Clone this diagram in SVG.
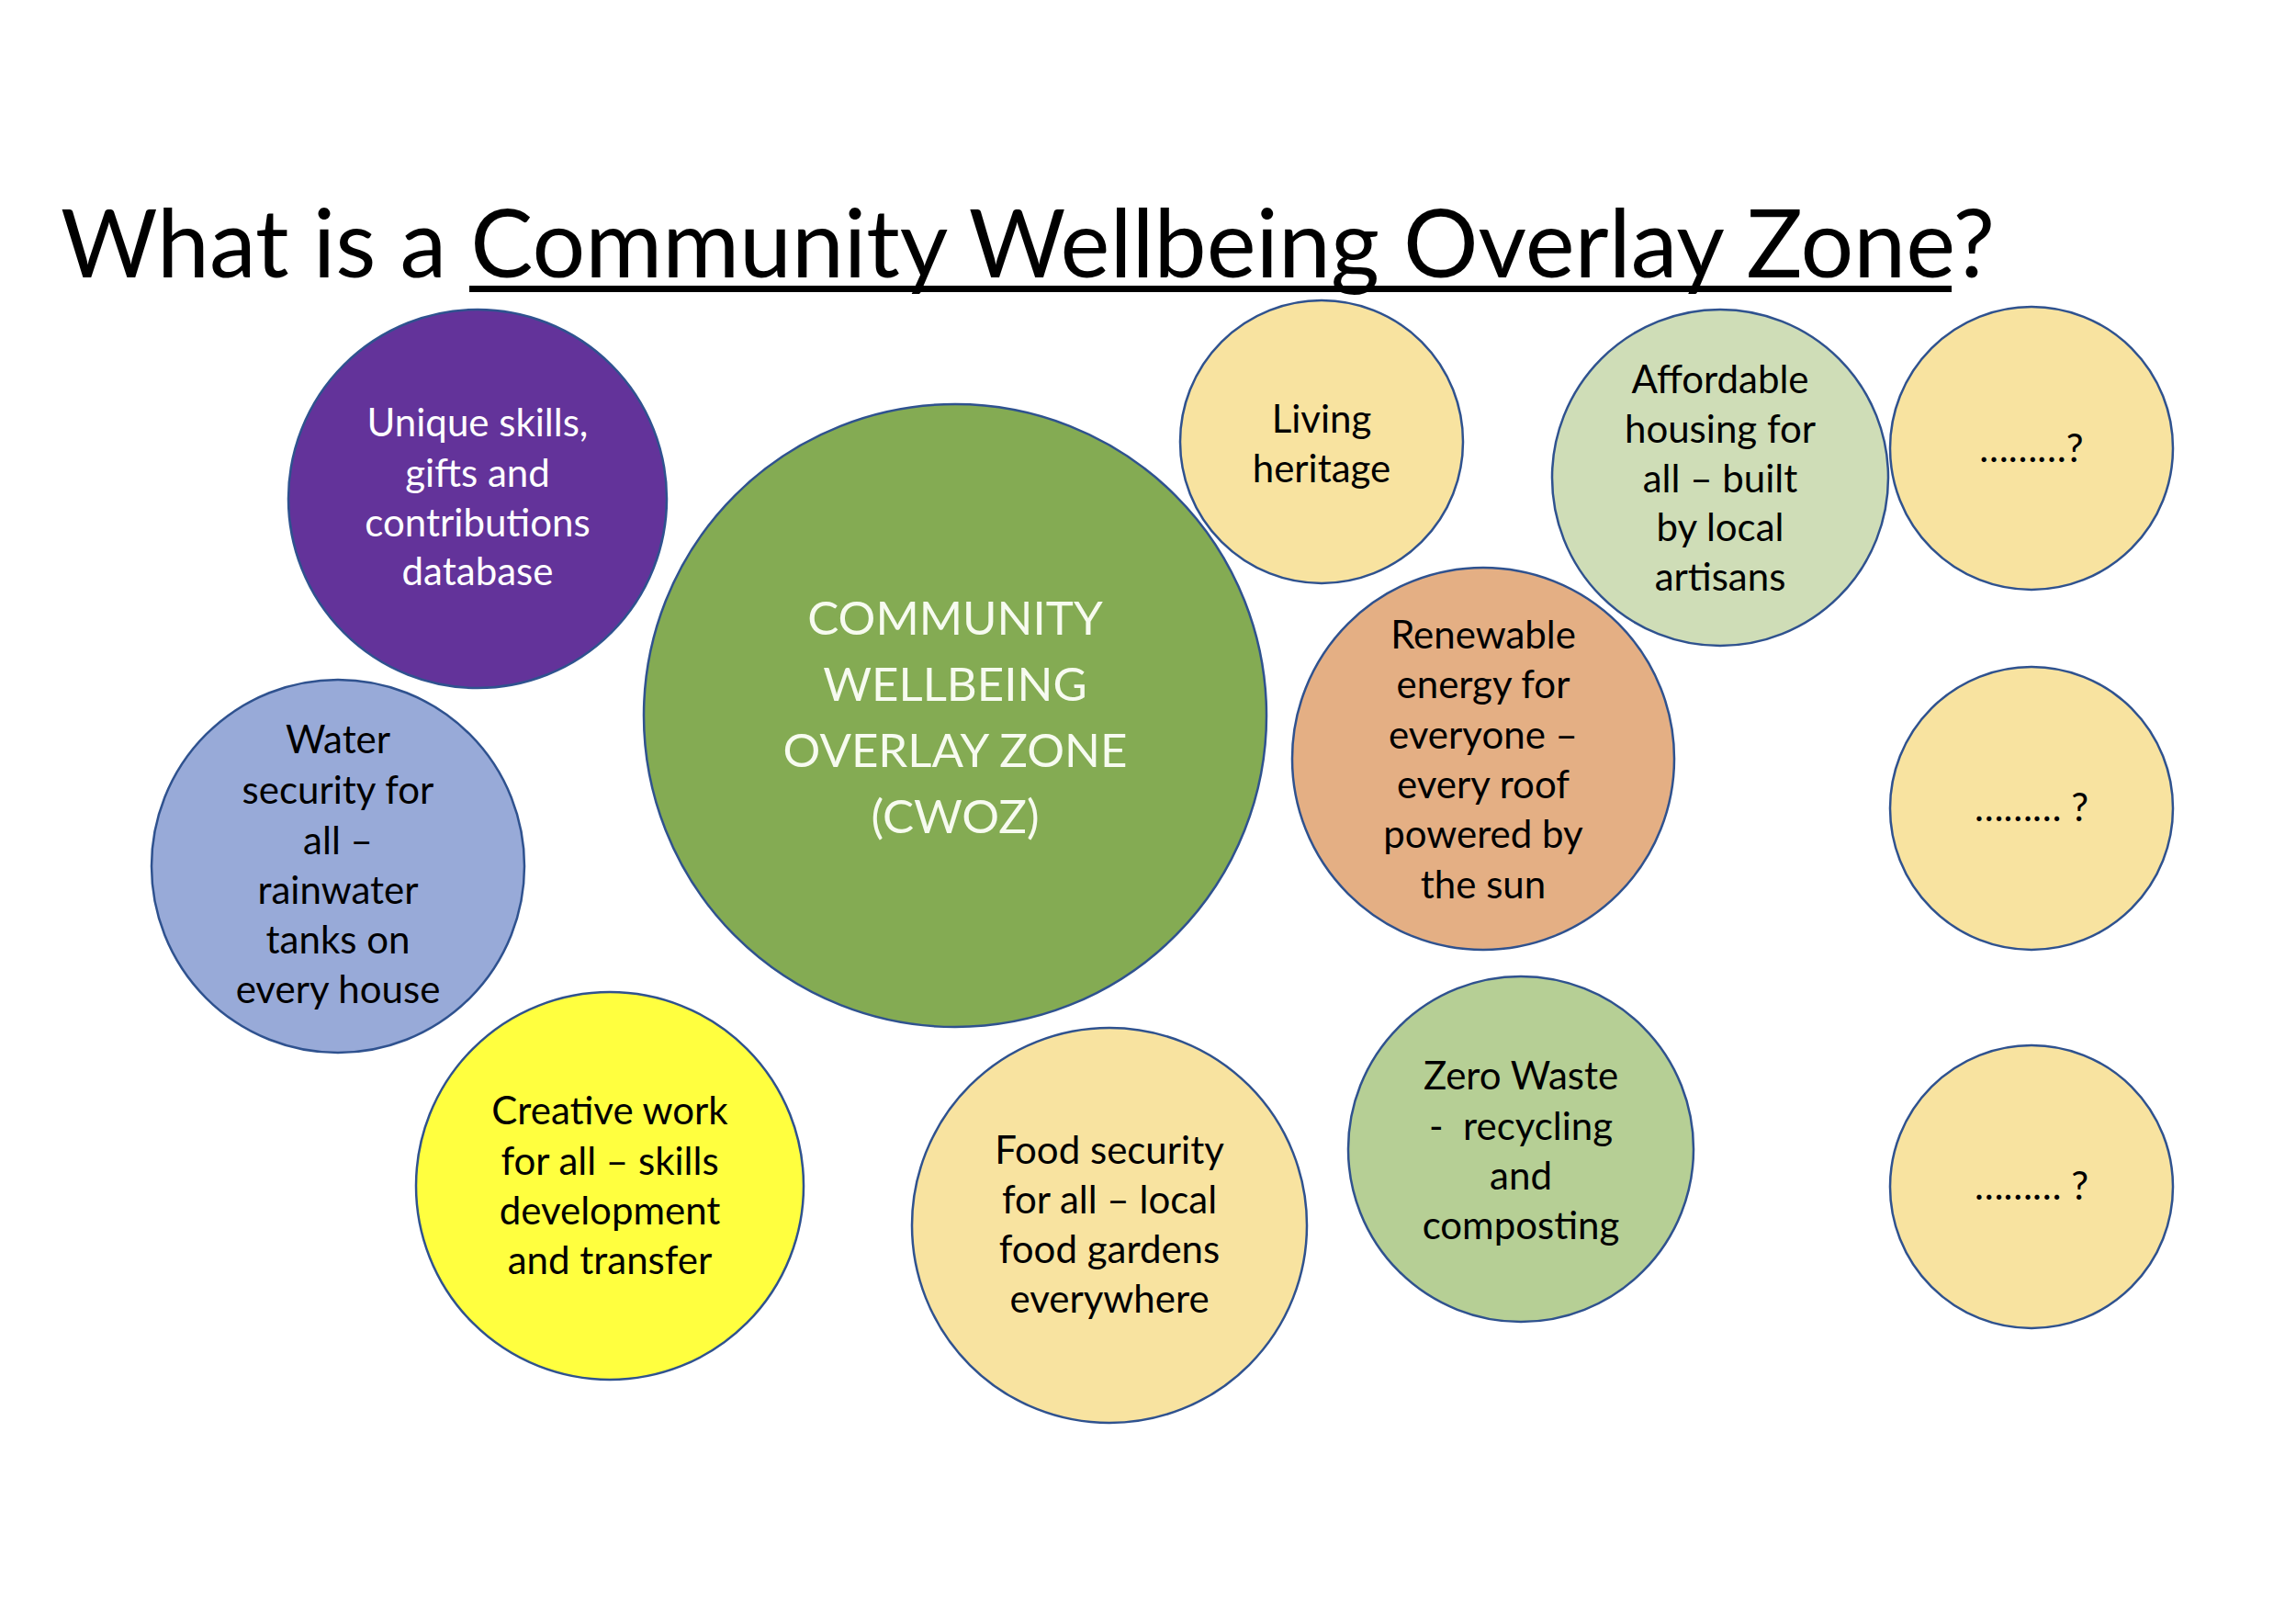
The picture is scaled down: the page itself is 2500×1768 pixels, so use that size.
<svg xmlns="http://www.w3.org/2000/svg" width="2500" height="1768" viewBox="0 0 2500 1768">
<style>
  .bub { stroke: #2F528F; stroke-width: 2.5; }
  .t { font-family: Lato, "Open Sans", "Liberation Sans", sans-serif; font-size: 42px; text-anchor: middle; fill: #000; }
  .w { fill: #FFFFFF; }
  .big { font-size: 51px; fill: #F7FBF0; }
  .title { font-family: Lato, "Open Sans", "Liberation Sans", sans-serif; font-size: 102px; fill: #000; }
</style>
<rect x="0" y="0" width="2500" height="1768" fill="#FFFFFF"/>
<g id="title">
  <text class="title" x="66" y="302">What is a Community Wellbeing Overlay Zone?</text>
  <rect x="511" y="311" width="1614" height="7" fill="#000"/>
</g>

<g id="connectors"></g>

<g id="node-skills">
  <circle class="bub" cx="520" cy="543" r="206" fill="#63339A"/>
  <text class="t w"><tspan x="520" y="475">Unique skills,</tspan><tspan x="520" y="530">gifts and</tspan><tspan x="520" y="584">contributions</tspan><tspan x="520" y="637">database</tspan></text>
</g>

<g id="node-cwoz">
  <circle class="bub" cx="1040" cy="779" r="339" fill="#84AB53"/>
  <text class="t big"><tspan x="1040" y="691">COMMUNITY</tspan><tspan x="1040" y="763">WELLBEING</tspan><tspan x="1040" y="835">OVERLAY ZONE</tspan><tspan x="1040" y="907">(CWOZ)</tspan></text>
</g>

<g id="node-heritage">
  <circle class="bub" cx="1439" cy="481" r="154" fill="#F8E3A0"/>
  <text class="t"><tspan x="1439" y="471">Living</tspan><tspan x="1439" y="525">heritage</tspan></text>
</g>

<g id="node-housing">
  <circle class="bub" cx="1873" cy="520" r="183" fill="#CFDDB7"/>
  <text class="t"><tspan x="1873" y="428">Affordable</tspan><tspan x="1873" y="482">housing for</tspan><tspan x="1873" y="536">all – built</tspan><tspan x="1873" y="589">by local</tspan><tspan x="1873" y="643">artisans</tspan></text>
</g>

<g id="node-q1">
  <circle class="bub" cx="2212" cy="488" r="154" fill="#F8E3A0"/>
  <text class="t" x="2212" y="503">………?</text>
</g>

<g id="node-energy">
  <circle class="bub" cx="1615" cy="826" r="208" fill="#E4AF84"/>
  <text class="t"><tspan x="1615" y="706">Renewable</tspan><tspan x="1615" y="760">energy for</tspan><tspan x="1615" y="815">everyone –</tspan><tspan x="1615" y="869">every roof</tspan><tspan x="1615" y="923">powered by</tspan><tspan x="1615" y="978">the sun</tspan></text>
</g>

<g id="node-q2">
  <circle class="bub" cx="2212" cy="880" r="154" fill="#F8E3A0"/>
  <text class="t" x="2212" y="894">……… ?</text>
</g>

<g id="node-water">
  <circle class="bub" cx="368" cy="943" r="203" fill="#98AAD8"/>
  <text class="t"><tspan x="368" y="820">Water</tspan><tspan x="368" y="875">security for</tspan><tspan x="368" y="930">all –</tspan><tspan x="368" y="984">rainwater</tspan><tspan x="368" y="1038">tanks on</tspan><tspan x="368" y="1092">every house</tspan></text>
</g>

<g id="node-creative">
  <circle class="bub" cx="664" cy="1291" r="211" fill="#FFFF3F"/>
  <text class="t"><tspan x="664" y="1224">Creative work</tspan><tspan x="664" y="1279">for all – skills</tspan><tspan x="664" y="1333">development</tspan><tspan x="664" y="1387">and transfer</tspan></text>
</g>

<g id="node-food">
  <circle class="bub" cx="1208" cy="1334" r="215" fill="#F8E3A0"/>
  <text class="t"><tspan x="1208" y="1267">Food security</tspan><tspan x="1208" y="1321">for all – local</tspan><tspan x="1208" y="1375">food gardens</tspan><tspan x="1208" y="1429">everywhere</tspan></text>
</g>

<g id="node-waste">
  <circle class="bub" cx="1656" cy="1251" r="188" fill="#B6CF95"/>
  <text class="t"><tspan x="1656" y="1186">Zero Waste</tspan><tspan x="1656" y="1241">-&#160; recycling</tspan><tspan x="1656" y="1295">and</tspan><tspan x="1656" y="1349">composting</tspan></text>
</g>

<g id="node-q3">
  <circle class="bub" cx="2212" cy="1292" r="154" fill="#F8E3A0"/>
  <text class="t" x="2212" y="1306">……… ?</text>
</g>
</svg>
